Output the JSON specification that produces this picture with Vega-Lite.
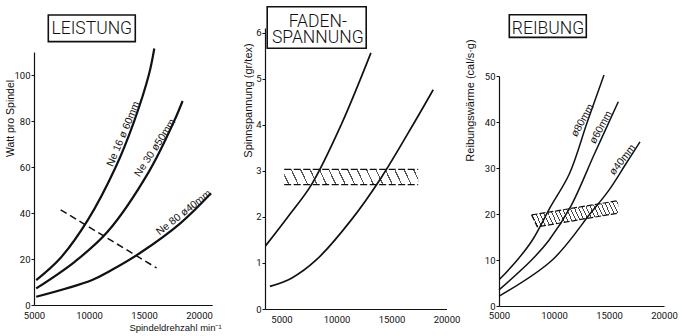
{
  "$schema": "https://vega.github.io/schema/vega-lite/v6.json",
  "background": "white",
  "padding": {"left": 5, "top": 6, "right": 5, "bottom": 2},
  "spacing": 52,
  "bounds": "flush",
  "config": {
    "view": {"stroke": null},
    "font": "Liberation Sans, sans-serif",
    "text": {"color": "#111", "font": "Liberation Sans, sans-serif"},
    "axis": {
      "labelFont": "Roboto, sans-serif",
      "labelFontSize": 9.5,
      "titleFont": "Liberation Sans, sans-serif",
      "titleFontSize": 10.5,
      "titleFontWeight": "normal",
      "domainColor": "#111",
      "domainWidth": 1.2,
      "tickColor": "#111",
      "tickSize": 3,
      "labelPadding": 1,
      "labelColor": "#111",
      "titleColor": "#111",
      "grid": false,
      "labelFlush": false,
      "labelOverlap": false
    }
  },
  "datasets": {
    "p1": [
      {"series": "Ne 16", "x": 5200, "y": 10.8},
      {"series": "Ne 16", "x": 7363, "y": 20.2},
      {"series": "Ne 16", "x": 9873, "y": 36.8},
      {"series": "Ne 16", "x": 12418, "y": 59.9},
      {"series": "Ne 16", "x": 14118, "y": 80.1},
      {"series": "Ne 16", "x": 15454, "y": 100.3},
      {"series": "Ne 16", "x": 15935, "y": 111.5},
      {"series": "Ne 30", "x": 5200, "y": 7.2},
      {"series": "Ne 30", "x": 8727, "y": 18.9},
      {"series": "Ne 30", "x": 11663, "y": 31.7},
      {"series": "Ne 30", "x": 15450, "y": 58},
      {"series": "Ne 30", "x": 17754, "y": 80.1},
      {"series": "Ne 30", "x": 18508, "y": 88.7},
      {"series": "Ne 80", "x": 5200, "y": 3.6},
      {"series": "Ne 80", "x": 10236, "y": 10.8},
      {"series": "Ne 80", "x": 12054, "y": 15.2},
      {"series": "Ne 80", "x": 14636, "y": 22.6},
      {"series": "Ne 80", "x": 18270, "y": 35.4},
      {"series": "Ne 80", "x": 21090, "y": 48.6}
    ],
    "p1dash": [
      {"x": 7420, "y": 41.4},
      {"x": 16145, "y": 16.1}
    ],
    "p2": [
      {"series": "A", "x": 3545, "y": 1.37},
      {"series": "A", "x": 5609, "y": 2.01},
      {"series": "A", "x": 7727, "y": 2.70},
      {"series": "A", "x": 10427, "y": 4.00},
      {"series": "A", "x": 13127, "y": 5.56},
      {"series": "B", "x": 3945, "y": 0.49},
      {"series": "B", "x": 5909, "y": 0.67},
      {"series": "B", "x": 8182, "y": 1.07},
      {"series": "B", "x": 11364, "y": 1.94},
      {"series": "B", "x": 14063, "y": 2.85},
      {"series": "B", "x": 17127, "y": 4.07},
      {"series": "B", "x": 18791, "y": 4.76}
    ],
    "p2band": [
      {"x": 5245, "x2": 17427, "lo": 2.70, "hi": 3.03}
    ],
    "p3": [
      {"series": "80mm", "x": 5055, "y": 5.8},
      {"series": "80mm", "x": 6664, "y": 10.0},
      {"series": "80mm", "x": 8027, "y": 14.3},
      {"series": "80mm", "x": 9690, "y": 21.6},
      {"series": "80mm", "x": 11390, "y": 28.7},
      {"series": "80mm", "x": 13026, "y": 40.0},
      {"series": "80mm", "x": 14545, "y": 50.2},
      {"series": "60mm", "x": 5000, "y": 3.5},
      {"series": "60mm", "x": 7963, "y": 10.0},
      {"series": "60mm", "x": 9545, "y": 14.3},
      {"series": "60mm", "x": 11509, "y": 21.6},
      {"series": "60mm", "x": 13663, "y": 33.0},
      {"series": "60mm", "x": 15845, "y": 44.4},
      {"series": "40mm", "x": 5055, "y": 2.2},
      {"series": "40mm", "x": 9845, "y": 10.0},
      {"series": "40mm", "x": 13336, "y": 20.2},
      {"series": "40mm", "x": 14999, "y": 25.2},
      {"series": "40mm", "x": 16481, "y": 30.7},
      {"series": "40mm", "x": 17817, "y": 35.7}
    ],
    "p3band": [
      {"x": 7964, "lo": 19.8, "hi": 19.8},
      {"x": 8482, "lo": 17.2, "hi": 20.0},
      {"x": 15845, "lo": 20.2, "hi": 22.9}
    ]
  },
  "hconcat": [
    {
      "width": 178.2,
      "height": 272,
      "layer": [
        {
          "data": {"name": "p1dash"},
          "mark": {"type": "line", "strokeDash": [7, 4], "strokeWidth": 1.5, "color": "#111"},
          "encoding": {
            "x": {"field": "x", "type": "quantitative"},
            "y": {"field": "y", "type": "quantitative"}
          }
        },
        {
          "data": {"name": "p1"},
          "mark": {"type": "line", "interpolate": "catmull-rom", "strokeWidth": 2.2, "color": "#111"},
          "encoding": {
            "x": {
              "field": "x", "type": "quantitative",
              "scale": {"domain": [5000, 21200], "nice": false, "zero": false},
              "axis": {
                "values": [5000, 10000, 15000, 20000], "format": "d",
                "ticks": false, "tickSize": 0, "labelPadding": 5,
                "title": "Spindeldrehzahl  min⁻¹",
                "titleX": 141, "titleY": 22.5, "titleBaseline": "middle", "titleAlign": "center",
                "titleFontSize": 9.5
              }
            },
            "y": {
              "field": "y", "type": "quantitative",
              "scale": {"domain": [0, 110], "range": [272, 19], "nice": false},
              "axis": {
                "values": [0, 20, 40, 60, 80, 100],
                "title": "Watt pro Spindel",
                "titleX": -24, "titleY": 85, "titleAngle": -90, "titleBaseline": "middle", "titleAlign": "center"
              }
            },
            "detail": {"field": "series", "type": "nominal"}
          }
        },
        {
          "data": {"values": [{"label": "Ne 16  ø 60mm", "x": 13550, "y": 73.5}]},
          "mark": {"type": "text", "angle": 293, "fontSize": 10.5, "align": "center", "baseline": "bottom"},
          "encoding": {
            "x": {"field": "x", "type": "quantitative"},
            "y": {"field": "y", "type": "quantitative"},
            "text": {"field": "label"}
          }
        },
        {
          "data": {"values": [{"label": "Ne 30  ø50mm", "x": 16400, "y": 67.1}]},
          "mark": {"type": "text", "angle": 303, "fontSize": 10.5, "align": "center", "baseline": "bottom"},
          "encoding": {
            "x": {"field": "x", "type": "quantitative"},
            "y": {"field": "y", "type": "quantitative"},
            "text": {"field": "label"}
          }
        },
        {
          "data": {"values": [{"label": "Ne 80 ø40mm", "x": 18900, "y": 38.4}]},
          "mark": {"type": "text", "angle": 322, "fontSize": 10.5, "align": "center", "baseline": "bottom"},
          "encoding": {
            "x": {"field": "x", "type": "quantitative"},
            "y": {"field": "y", "type": "quantitative"},
            "text": {"field": "label"}
          }
        },
        {
          "data": {"values": [{}]},
          "mark": {"type": "rect", "fill": "white", "stroke": "#111", "strokeWidth": 1.6},
          "encoding": {
            "x": {"datum": 6300}, "x2": {"datum": 14208},
            "y": {"datum": 126.1}, "y2": {"datum": 114.5}
          }
        },
        {
          "data": {"values": [{}]},
          "mark": {"type": "text", "text": "LEISTUNG", "font": "Roboto, sans-serif", "fontWeight": 300, "fontSize": 17.5, "align": "center", "baseline": "middle"},
          "encoding": {"x": {"datum": 10254}, "y": {"datum": 119.9}}
        }
      ]
    },
    {
      "width": 181.5,
      "height": 276,
      "layer": [
        {
          "data": {"name": "p2band"},
          "mark": {
            "type": "rect",
            "fill": {
              "gradient": "linear", "x1": 0, "y1": 1, "x2": 1.05, "y2": 0.944,
              "stops": [
                {"offset": 0, "color": "white"},
                {"offset": 0.0288, "color": "white"}, {"offset": 0.0288, "color": "#555"}, {"offset": 0.0378, "color": "#555"}, {"offset": 0.0378, "color": "white"},
                {"offset": 0.0955, "color": "white"}, {"offset": 0.0955, "color": "#555"}, {"offset": 0.1045, "color": "#555"}, {"offset": 0.1045, "color": "white"},
                {"offset": 0.1622, "color": "white"}, {"offset": 0.1622, "color": "#555"}, {"offset": 0.1712, "color": "#555"}, {"offset": 0.1712, "color": "white"},
                {"offset": 0.2288, "color": "white"}, {"offset": 0.2288, "color": "#555"}, {"offset": 0.2378, "color": "#555"}, {"offset": 0.2378, "color": "white"},
                {"offset": 0.2955, "color": "white"}, {"offset": 0.2955, "color": "#555"}, {"offset": 0.3045, "color": "#555"}, {"offset": 0.3045, "color": "white"},
                {"offset": 0.3622, "color": "white"}, {"offset": 0.3622, "color": "#555"}, {"offset": 0.3712, "color": "#555"}, {"offset": 0.3712, "color": "white"},
                {"offset": 0.4288, "color": "white"}, {"offset": 0.4288, "color": "#555"}, {"offset": 0.4378, "color": "#555"}, {"offset": 0.4378, "color": "white"},
                {"offset": 0.4955, "color": "white"}, {"offset": 0.4955, "color": "#555"}, {"offset": 0.5045, "color": "#555"}, {"offset": 0.5045, "color": "white"},
                {"offset": 0.5622, "color": "white"}, {"offset": 0.5622, "color": "#555"}, {"offset": 0.5712, "color": "#555"}, {"offset": 0.5712, "color": "white"},
                {"offset": 0.6288, "color": "white"}, {"offset": 0.6288, "color": "#555"}, {"offset": 0.6378, "color": "#555"}, {"offset": 0.6378, "color": "white"},
                {"offset": 0.6955, "color": "white"}, {"offset": 0.6955, "color": "#555"}, {"offset": 0.7045, "color": "#555"}, {"offset": 0.7045, "color": "white"},
                {"offset": 0.7622, "color": "white"}, {"offset": 0.7622, "color": "#555"}, {"offset": 0.7712, "color": "#555"}, {"offset": 0.7712, "color": "white"},
                {"offset": 0.8288, "color": "white"}, {"offset": 0.8288, "color": "#555"}, {"offset": 0.8378, "color": "#555"}, {"offset": 0.8378, "color": "white"},
                {"offset": 0.8955, "color": "white"}, {"offset": 0.8955, "color": "#555"}, {"offset": 0.9045, "color": "#555"}, {"offset": 0.9045, "color": "white"},
                {"offset": 0.9622, "color": "white"}, {"offset": 0.9622, "color": "#555"}, {"offset": 0.9712, "color": "#555"}, {"offset": 0.9712, "color": "white"},
                {"offset": 1, "color": "white"}
              ]
            }
          },
          "encoding": {
            "x": {"field": "x", "type": "quantitative"},
            "x2": {"field": "x2"},
            "y": {"field": "lo", "type": "quantitative"},
            "y2": {"field": "hi"}
          }
        },
        {
          "data": {"name": "p2band"},
          "mark": {"type": "rule", "strokeDash": [7, 2.5], "strokeWidth": 1.3, "color": "#111"},
          "encoding": {
            "x": {"field": "x", "type": "quantitative"},
            "x2": {"field": "x2"},
            "y": {"field": "lo", "type": "quantitative"}
          }
        },
        {
          "data": {"name": "p2band"},
          "mark": {"type": "rule", "strokeDash": [7, 2.5], "strokeWidth": 1.3, "color": "#111"},
          "encoding": {
            "x": {"field": "x", "type": "quantitative"},
            "x2": {"field": "x2"},
            "y": {"field": "hi", "type": "quantitative"}
          }
        },
        {
          "data": {"name": "p2"},
          "mark": {"type": "line", "interpolate": "catmull-rom", "strokeWidth": 1.7, "color": "#111"},
          "encoding": {
            "x": {
              "field": "x", "type": "quantitative",
              "scale": {"domain": [3500, 20000], "nice": false, "zero": false},
              "axis": {
                "values": [5000, 10000, 15000, 20000], "format": "d",
                "ticks": false, "tickSize": 0, "labelPadding": 5, "title": null
              }
            },
            "y": {
              "field": "y", "type": "quantitative",
              "scale": {"domain": [0, 6.1], "range": [276, -5], "nice": false},
              "axis": {
                "values": [0, 1, 2, 3, 4, 5, 6],
                "title": "Spinnspannung (gr/tex)",
                "titleFontSize": 11,
                "titleX": -17, "titleY": 67, "titleAngle": -90, "titleBaseline": "middle", "titleAlign": "center"
              }
            },
            "detail": {"field": "series", "type": "nominal"}
          }
        },
        {
          "data": {"values": [{}]},
          "mark": {"type": "rect", "fill": "white", "stroke": "#111", "strokeWidth": 1.6},
          "encoding": {
            "x": {"datum": 3700}, "x2": {"datum": 12700},
            "y": {"datum": 6.56}, "y2": {"datum": 5.66}
          }
        },
        {
          "data": {"values": [{}]},
          "mark": {"type": "text", "text": ["FADEN-", "SPANNUNG"], "lineHeight": 16, "font": "Roboto, sans-serif", "fontWeight": 300, "fontSize": 17.5, "align": "center", "baseline": "middle"},
          "encoding": {"x": {"datum": 8300}, "y": {"datum": 6.23}}
        }
      ]
    },
    {
      "width": 165,
      "height": 273,
      "layer": [
        {
          "data": {"name": "p3band"},
          "mark": {
            "type": "area",
            "interpolate": "linear",
            "fill": {
              "gradient": "linear", "x1": 0, "y1": 1, "x2": 1.118, "y2": 0.844,
              "stops": [
                {"offset": 0, "color": "white"},
                {"offset": 0.0158, "color": "white"}, {"offset": 0.0158, "color": "#444"}, {"offset": 0.0258, "color": "#444"}, {"offset": 0.0258, "color": "white"},
                {"offset": 0.0575, "color": "white"}, {"offset": 0.0575, "color": "#444"}, {"offset": 0.0675, "color": "#444"}, {"offset": 0.0675, "color": "white"},
                {"offset": 0.0992, "color": "white"}, {"offset": 0.0992, "color": "#444"}, {"offset": 0.1092, "color": "#444"}, {"offset": 0.1092, "color": "white"},
                {"offset": 0.1408, "color": "white"}, {"offset": 0.1408, "color": "#444"}, {"offset": 0.1508, "color": "#444"}, {"offset": 0.1508, "color": "white"},
                {"offset": 0.1825, "color": "white"}, {"offset": 0.1825, "color": "#444"}, {"offset": 0.1925, "color": "#444"}, {"offset": 0.1925, "color": "white"},
                {"offset": 0.2242, "color": "white"}, {"offset": 0.2242, "color": "#444"}, {"offset": 0.2342, "color": "#444"}, {"offset": 0.2342, "color": "white"},
                {"offset": 0.2658, "color": "white"}, {"offset": 0.2658, "color": "#444"}, {"offset": 0.2758, "color": "#444"}, {"offset": 0.2758, "color": "white"},
                {"offset": 0.3075, "color": "white"}, {"offset": 0.3075, "color": "#444"}, {"offset": 0.3175, "color": "#444"}, {"offset": 0.3175, "color": "white"},
                {"offset": 0.3492, "color": "white"}, {"offset": 0.3492, "color": "#444"}, {"offset": 0.3592, "color": "#444"}, {"offset": 0.3592, "color": "white"},
                {"offset": 0.3908, "color": "white"}, {"offset": 0.3908, "color": "#444"}, {"offset": 0.4008, "color": "#444"}, {"offset": 0.4008, "color": "white"},
                {"offset": 0.4325, "color": "white"}, {"offset": 0.4325, "color": "#444"}, {"offset": 0.4425, "color": "#444"}, {"offset": 0.4425, "color": "white"},
                {"offset": 0.4742, "color": "white"}, {"offset": 0.4742, "color": "#444"}, {"offset": 0.4842, "color": "#444"}, {"offset": 0.4842, "color": "white"},
                {"offset": 0.5158, "color": "white"}, {"offset": 0.5158, "color": "#444"}, {"offset": 0.5258, "color": "#444"}, {"offset": 0.5258, "color": "white"},
                {"offset": 0.5575, "color": "white"}, {"offset": 0.5575, "color": "#444"}, {"offset": 0.5675, "color": "#444"}, {"offset": 0.5675, "color": "white"},
                {"offset": 0.5992, "color": "white"}, {"offset": 0.5992, "color": "#444"}, {"offset": 0.6092, "color": "#444"}, {"offset": 0.6092, "color": "white"},
                {"offset": 0.6408, "color": "white"}, {"offset": 0.6408, "color": "#444"}, {"offset": 0.6508, "color": "#444"}, {"offset": 0.6508, "color": "white"},
                {"offset": 0.6825, "color": "white"}, {"offset": 0.6825, "color": "#444"}, {"offset": 0.6925, "color": "#444"}, {"offset": 0.6925, "color": "white"},
                {"offset": 0.7242, "color": "white"}, {"offset": 0.7242, "color": "#444"}, {"offset": 0.7342, "color": "#444"}, {"offset": 0.7342, "color": "white"},
                {"offset": 0.7658, "color": "white"}, {"offset": 0.7658, "color": "#444"}, {"offset": 0.7758, "color": "#444"}, {"offset": 0.7758, "color": "white"},
                {"offset": 0.8075, "color": "white"}, {"offset": 0.8075, "color": "#444"}, {"offset": 0.8175, "color": "#444"}, {"offset": 0.8175, "color": "white"},
                {"offset": 0.8492, "color": "white"}, {"offset": 0.8492, "color": "#444"}, {"offset": 0.8592, "color": "#444"}, {"offset": 0.8592, "color": "white"},
                {"offset": 0.8908, "color": "white"}, {"offset": 0.8908, "color": "#444"}, {"offset": 0.9008, "color": "#444"}, {"offset": 0.9008, "color": "white"},
                {"offset": 0.9325, "color": "white"}, {"offset": 0.9325, "color": "#444"}, {"offset": 0.9425, "color": "#444"}, {"offset": 0.9425, "color": "white"},
                {"offset": 0.9742, "color": "white"}, {"offset": 0.9742, "color": "#444"}, {"offset": 0.9842, "color": "#444"}, {"offset": 0.9842, "color": "white"},
                {"offset": 1, "color": "white"}
              ]
            }
          },
          "encoding": {
            "x": {"field": "x", "type": "quantitative"},
            "y": {"field": "lo", "type": "quantitative"},
            "y2": {"field": "hi"}
          }
        },
        {
          "data": {"name": "p3band"},
          "mark": {"type": "line", "strokeDash": [6, 2], "strokeWidth": 1.2, "color": "#111"},
          "encoding": {
            "x": {"field": "x", "type": "quantitative"},
            "y": {"field": "lo", "type": "quantitative"}
          }
        },
        {
          "data": {"name": "p3band"},
          "mark": {"type": "line", "strokeDash": [6, 2], "strokeWidth": 1.2, "color": "#111"},
          "encoding": {
            "x": {"field": "x", "type": "quantitative"},
            "y": {"field": "hi", "type": "quantitative"}
          }
        },
        {
          "data": {"name": "p3"},
          "mark": {"type": "line", "interpolate": "catmull-rom", "strokeWidth": 1.5, "color": "#111"},
          "encoding": {
            "x": {
              "field": "x", "type": "quantitative",
              "scale": {"domain": [5000, 20000], "nice": false, "zero": false},
              "axis": {
                "values": [5000, 10000, 15000, 20000], "format": "d",
                "ticks": false, "tickSize": 0, "labelPadding": 4, "title": null
              }
            },
            "y": {
              "field": "y", "type": "quantitative",
              "scale": {"domain": [0, 50], "range": [273, 43], "nice": false},
              "axis": {
                "values": [0, 10, 20, 30, 40, 50],
                "title": "Reibungswärme (cal/s·g)",
                "titleFontSize": 11,
                "titleX": -28.5, "titleY": 67, "titleAngle": -90, "titleBaseline": "middle", "titleAlign": "center"
              }
            },
            "detail": {"field": "series", "type": "nominal"}
          }
        },
        {
          "data": {"values": [{"label": "ø80mm", "x": 13000, "y": 39.8}]},
          "mark": {"type": "text", "angle": 299, "fontSize": 10.5, "align": "center", "baseline": "bottom"},
          "encoding": {
            "x": {"field": "x", "type": "quantitative"},
            "y": {"field": "y", "type": "quantitative"},
            "text": {"field": "label"}
          }
        },
        {
          "data": {"values": [{"label": "ø60mm", "x": 14677, "y": 38.3}]},
          "mark": {"type": "text", "angle": 299, "fontSize": 10.5, "align": "center", "baseline": "bottom"},
          "encoding": {
            "x": {"field": "x", "type": "quantitative"},
            "y": {"field": "y", "type": "quantitative"},
            "text": {"field": "label"}
          }
        },
        {
          "data": {"values": [{"label": "ø40mm", "x": 16600, "y": 31.1}]},
          "mark": {"type": "text", "angle": 308, "fontSize": 10.5, "align": "center", "baseline": "bottom"},
          "encoding": {
            "x": {"field": "x", "type": "quantitative"},
            "y": {"field": "y", "type": "quantitative"},
            "text": {"field": "label"}
          }
        },
        {
          "data": {"values": [{}]},
          "mark": {"type": "rect", "fill": "white", "stroke": "#111", "strokeWidth": 1.6},
          "encoding": {
            "x": {"datum": 5936}, "x2": {"datum": 12936},
            "y": {"datum": 63.3}, "y2": {"datum": 58.4}
          }
        },
        {
          "data": {"values": [{}]},
          "mark": {"type": "text", "text": "REIBUNG", "font": "Roboto, sans-serif", "fontWeight": 300, "fontSize": 17.5, "align": "center", "baseline": "middle"},
          "encoding": {"x": {"datum": 9455}, "y": {"datum": 60.3}}
        }
      ]
    }
  ]
}
